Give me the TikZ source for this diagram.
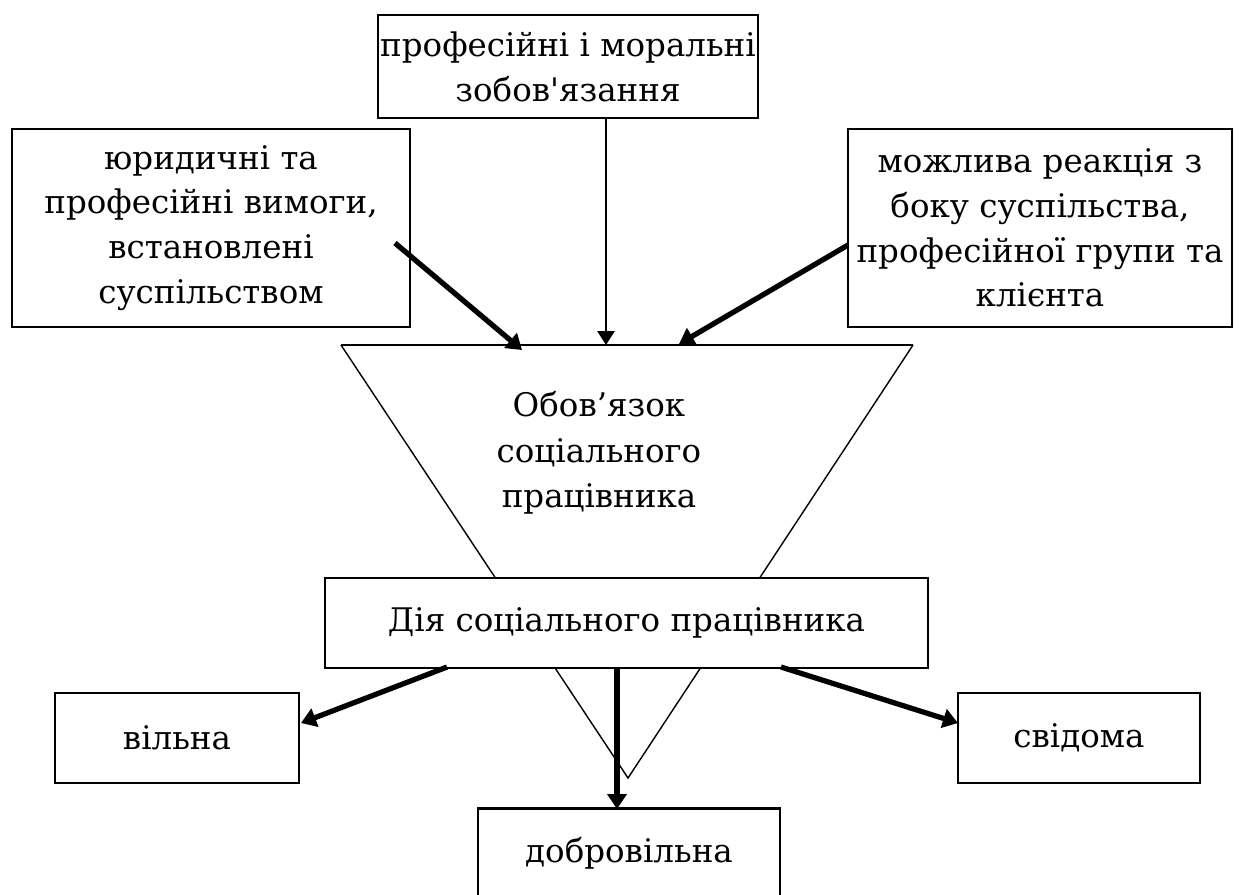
\documentclass[tikz,border=0pt]{standalone}
\usepackage{fontspec}
\setmainfont{DejaVu Serif}
\usetikzlibrary{arrows.meta}

\tikzset{
    box/.style={draw, line width=1.6pt, fill=white, align=center, inner sep=0pt,
        font=\fontsize{18.5}{25.5}\selectfont},
    label text/.style={align=center, inner sep=0pt, font=\fontsize{18.5}{26}\selectfont},
    thin arrow/.style={line width=1.6pt, -{Triangle[length=0.28cm, width=0.34cm]}},
    thick arrow/.style={line width=3pt, -{Triangle[length=0.3cm, width=0.38cm]}}
}

\begin{document}
\begin{tikzpicture}[x=0.02cm, y=-0.02cm]

    \clip (0,0) rectangle (1239,894);
    \fill[white] (0,0) rectangle (1239,894);

    % Funnel
    \coordinate (tl) at (341,345);
    \coordinate (tr) at (913,345);
    \coordinate (apex) at (628,778);
    \draw[line width=0.8pt] (tl) -- (apex) -- (tr);
    \draw[line width=1.6pt] (tl) -- (tr);
    \node[label text] (duty) at (599,453) {Обов’язок\\соціального\\працівника};

    % Sources
    \node[box, minimum width=7.6cm, minimum height=2.06cm] (moral) at (568,66.5)
        {професійні і моральні\\зобов\textquotesingle язання};
    \node[box, minimum width=7.96cm, minimum height=3.96cm] (legal) at (211,228)
        {юридичні та\\професійні вимоги,\\встановлені\\суспільством};
    \node[box, minimum width=7.68cm, minimum height=3.96cm] (react) at (1040,228)
        {можлива реакція з\\боку суспільства,\\професійної групи та\\клієнта};

    % Action
    \node[box, minimum width=12.06cm, minimum height=1.8cm] (act) at (626.5,623)
        {Дія соціального працівника};

    % Kinds of action
    \node[box, minimum width=4.88cm, minimum height=1.8cm] (free) at (177,738) {вільна};
    \node[box, minimum width=4.84cm, minimum height=1.8cm] (aware) at (1079,738) {свідома};
    \node[box, minimum width=6.04cm, minimum height=1.8cm] (vol) at (629,853.5) {добровільна};

    % Arrow ends
    \coordinate (mfrom) at (606,118);
    \coordinate (mto) at (606,345);
    \coordinate (lfrom) at (395,243);
    \coordinate (lto) at (522,350);
    \coordinate (rfrom) at (848,245);
    \coordinate (rto) at (679,344);
    \coordinate (dfrom) at (617,668);
    \coordinate (dto) at (617,809);
    \coordinate (ffrom) at (447,667);
    \coordinate (fto) at (301,723);
    \coordinate (afrom) at (781,667);
    \coordinate (ato) at (958,723);

    % Lines
    \draw[thin arrow] (mfrom) -- (mto);
    \foreach \a/\b in {lfrom/lto, rfrom/rto, dfrom/dto, ffrom/fto, afrom/ato}
        \draw[thick arrow] (\a) -- (\b);

\end{tikzpicture}
\end{document}
